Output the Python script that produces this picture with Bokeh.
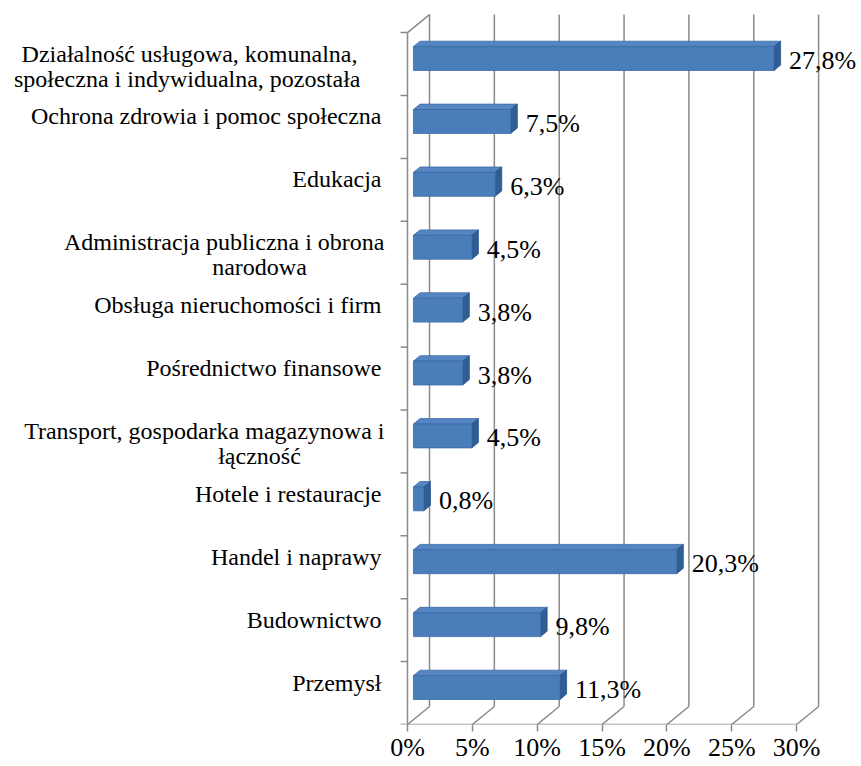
from bokeh.plotting import figure
from bokeh.models import ColumnDataSource, FixedTicker, Range1d
from bokeh.core.properties import value, field
from bokeh.embed import file_html
from bokeh.resources import INLINE

# ---------------- data (top to bottom, as in the picture) ----------------
categories = [
    "Działalność usługowa, komunalna,\nspołeczna i indywidualna, pozostała",
    "Ochrona zdrowia i pomoc społeczna",
    "Edukacja",
    "Administracja publiczna i obrona\nnarodowa",
    "Obsługa nieruchomości i firm",
    "Pośrednictwo finansowe",
    "Transport, gospodarka magazynowa i\nłączność",
    "Hotele i restauracje",
    "Handel i naprawy",
    "Budownictwo",
    "Przemysł",
]
values = [27.8, 7.5, 6.3, 4.5, 3.8, 3.8, 4.5, 0.8, 20.3, 9.8, 11.3]
value_labels = ["27,8%", "7,5%", "6,3%", "4,5%", "3,8%", "3,8%", "4,5%", "0,8%", "20,3%", "9,8%", "11,3%"]
x_ticks = [0, 5, 10, 15, 20, 25, 30]
x_tick_labels = ["0%", "5%", "10%", "15%", "20%", "25%", "30%"]

# ---------------- geometry / style ----------------
W, H = 861, 766
PX_PER_PCT = 12.97          # horizontal scale
PX_PER_BAND = 62.9          # one category band
ORIGIN_X = 407              # front-left-bottom corner, plot pixel coords
ORIGIN_Y_FROM_TOP = 724
BOTTOM_PANEL = H - ORIGIN_Y_FROM_TOP
DEPTH_PX = (22, 18)         # 3-D depth vector in pixels (right, up)
ddx = DEPTH_PX[0] / PX_PER_PCT
ddy = DEPTH_PX[1] / PX_PER_BAND
F1, F2 = 0.27, 0.57         # bar front / back depth fractions
BAR_LO, BAR_HI = 0.32, 0.70 # bar extent within a band

n = len(categories)
x_start = -ORIGIN_X / PX_PER_PCT
x_end = (W - ORIGIN_X) / PX_PER_PCT
y_end = ORIGIN_Y_FROM_TOP / PX_PER_BAND

GRID = "#8a8a8a"
FONT = value("Liberation Serif")

p = figure(width=W, height=H, output_backend="svg", toolbar_location=None,
           x_range=Range1d(x_start, x_end), y_range=Range1d(0, y_end),
           y_axis_location=None, min_border_left=0, min_border_right=0,
           min_border_top=0, min_border_bottom=BOTTOM_PANEL)
p.outline_line_color = None
p.xgrid.visible = False
p.ygrid.visible = False
p.background_fill_color = "white"
p.border_fill_color = "white"

# ---------------- walls & floor ----------------
top = float(n)
# back wall vertical gridlines
p.segment(x0=[t + ddx for t in x_ticks], y0=[ddy] * len(x_ticks),
          x1=[t + ddx for t in x_ticks], y1=[top + ddy] * len(x_ticks),
          line_color=GRID, line_width=1.5)
# floor diagonals
p.segment(x0=x_ticks, y0=[0] * len(x_ticks),
          x1=[t + ddx for t in x_ticks], y1=[ddy] * len(x_ticks),
          line_color=GRID, line_width=1.5)
# floor front edge
p.segment(x0=[x_ticks[0]], y0=[0], x1=[x_ticks[-1]], y1=[0], line_color=GRID, line_width=1.5)
# left wall: front vertical edge and top diagonal
p.segment(x0=[0, 0], y0=[0, top], x1=[0, ddx], y1=[top, top + ddy],
          line_color=GRID, line_width=1.5)
# category tick marks on the left edge
p.segment(x0=[0] * (n + 1), y0=list(range(n + 1)), x1=[-7 / PX_PER_PCT] * (n + 1),
          y1=list(range(n + 1)), line_color=GRID, line_width=1.5)

# ---------------- bars ----------------
front_xs, front_ys, top_xs, top_ys, side_xs, side_ys = [], [], [], [], [], []
lab_x, lab_y, lab_t = [], [], []
cx, cy, ct, calign, cxo, cyo = [], [], [], [], [], []
bdx, bdy = (F2 - F1) * ddx, (F2 - F1) * ddy
for k, (cat, v, vl) in enumerate(zip(categories, values, value_labels)):
    i = n - 1 - k
    x0 = F1 * ddx
    x1 = v + F1 * ddx
    y0 = i + BAR_LO + F1 * ddy
    y1 = i + BAR_HI + F1 * ddy
    front_xs.append([x0, x1, x1, x0]); front_ys.append([y0, y0, y1, y1])
    top_xs.append([x0, x1, x1 + bdx, x0 + bdx]); top_ys.append([y1, y1, y1 + bdy, y1 + bdy])
    side_xs.append([x1, x1 + bdx, x1 + bdx, x1]); side_ys.append([y0, y0 + bdy, y1 + bdy, y1])
    yc = (y0 + y1) / 2
    lab_x.append(v); lab_y.append(yc); lab_t.append(vl)
    lines = cat.split("\n")
    if len(lines) == 1:
        layout = [("right", -26)]
    elif k == 0:
        layout = [("right", -50), ("right", -47)]
    else:
        layout = [("right", -23), ("center", -148)]
    for j, (ln, (al, xo)) in enumerate(zip(lines, layout)):
        cx.append(0); cy.append(yc); ct.append(ln); calign.append(al)
        cxo.append(xo); cyo.append(-5 + 25 * j)

p.patches(xs=top_xs, ys=top_ys, fill_color="#5585c2", line_color="#3b6aa6", line_width=0.8)
p.patches(xs=side_xs, ys=side_ys, fill_color="#2f5d94", line_color="#2a5488", line_width=0.8)
p.patches(xs=front_xs, ys=front_ys, fill_color="#4a7ebb", line_color="#3b6aa6", line_width=0.8)

# value labels
vsrc = ColumnDataSource(dict(x=lab_x, y=lab_y, t=lab_t))
p.text(x="x", y="y", text="t", source=vsrc, x_offset=21, y_offset=2,
       text_font=FONT, text_font_size=value("26px"), text_baseline="middle",
       text_align="left", text_color="black")

# category labels
csrc = ColumnDataSource(dict(x=cx, y=cy, t=ct, al=calign, xo=cxo, yo=cyo))
p.text(x="x", y="y", text="t", source=csrc, x_offset=field("xo"), y_offset=field("yo"),
       text_align=field("al"), text_font=FONT, text_font_size=value("24px"),
       text_baseline="middle", text_color="black")

# ---------------- x axis ----------------
ax = p.xaxis[0]
ax.ticker = FixedTicker(ticks=x_ticks)
ax.major_label_overrides = {t: lab for t, lab in zip(x_ticks, x_tick_labels)}
ax.axis_line_color = None
ax.major_tick_line_color = GRID
ax.major_tick_line_width = 1.5
ax.major_tick_out = 7
ax.major_tick_in = 0
ax.minor_tick_line_color = None
ax.major_label_standoff = 1
ax.major_label_text_font = "Liberation Serif"
ax.major_label_text_font_size = "26px"
ax.major_label_text_color = "black"

open("out.html", "w").write(file_html(p, INLINE))
